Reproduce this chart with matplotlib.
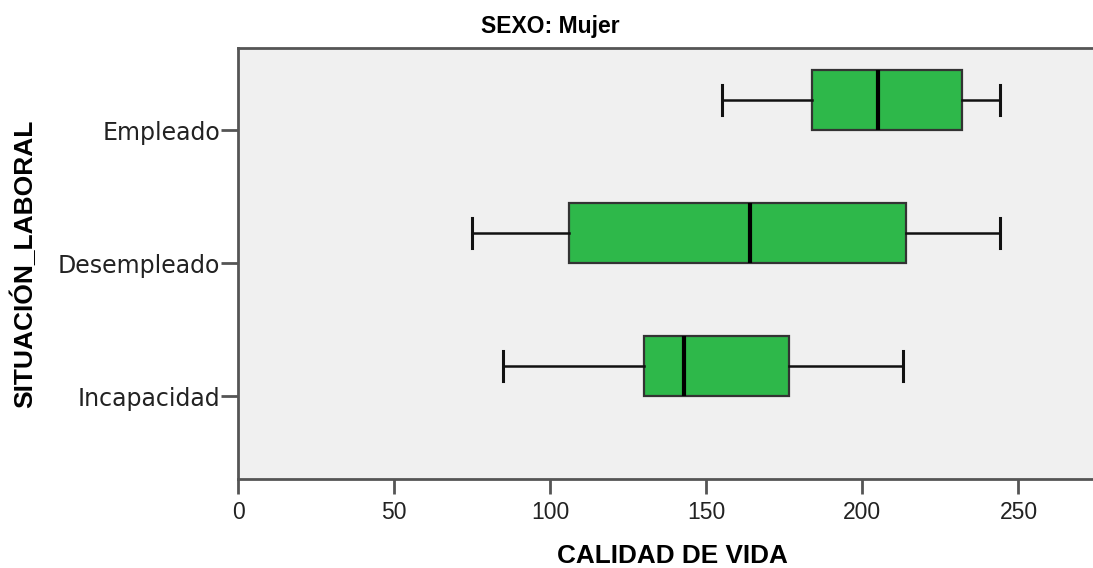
import numpy as np
import matplotlib as mpl
mpl.use('Agg')
import matplotlib.pyplot as plt

# Calidad de vida por situación laboral (SEXO: Mujer)
categories = ["Empleado", "Desempleado", "Incapacidad"]
whis_lo = [155.0, 75.0, 85.0]
q1      = [184.0, 106.0, 130.0]
median  = [205.0, 164.0, 143.0]
q3      = [232.0, 214.0, 176.5]
whis_hi = [244.0, 244.0, 213.0]

x_ticks = [0, 50, 100, 150, 200, 250]

plt.rcParams['font.family'] = ['Liberation Sans', 'DejaVu Sans']

fig = plt.figure(figsize=(10.93, 5.68), dpi=100)
ax = fig.add_axes([0.2178, 0.1567, 0.794, 0.7588])
ax.set_facecolor("#f0f0f0")

positions = np.arange(len(categories), 0, -1).astype(float)

stats = []
for i, name in enumerate(categories):
    stats.append(dict(
        label=name,
        whislo=whis_lo[i], q1=q1[i], med=median[i], q3=q3[i], whishi=whis_hi[i],
        fliers=[],
    ))

ax.bxp(
    stats,
    positions=positions,
    vert=False,
    widths=0.45,
    patch_artist=True,
    showfliers=False,
    boxprops=dict(facecolor="#2eb84a", edgecolor="#333333", linewidth=1.6),
    medianprops=dict(color="black", linewidth=3.0, solid_capstyle="butt"),
    whiskerprops=dict(color="#111111", linewidth=1.8),
    capprops=dict(color="#111111", linewidth=2.2),
    capwidths=0.23,
    manage_ticks=False,
)

ax.set_xlim(0, 278)
ax.set_ylim(0.15, 3.391)

ax.set_xticks(x_ticks)
ax.set_xticklabels([str(v) for v in x_ticks])
ax.set_yticks(positions - 0.226)
ax.set_yticklabels(categories, family=["DejaVu Sans"], fontsize=17)

for s in ["left", "bottom", "top"]:
    ax.spines[s].set_color("#555555")
    ax.spines[s].set_linewidth(2.0)
ax.spines["right"].set_visible(False)

ax.tick_params(axis="x", direction="out", length=11, width=2.0, color="#555555",
               labelsize=16.5, labelcolor="#222222", pad=5)
ax.tick_params(axis="y", direction="out", length=12, width=2.0, color="#555555",
               labelcolor="#222222", pad=1)

ax.set_xlabel("CALIDAD DE VIDA", fontsize=18.8, fontweight="bold")
ax.xaxis.set_label_coords(0.5, -0.1787)
ax.xaxis.label.set_va("center")

ax.set_ylabel("SITUACIÓN_LABORAL", fontsize=19, fontweight="bold")
ax.yaxis.set_label_coords(-0.2466, 0.5)
ax.yaxis.label.set_va("center")

fig.text(550 / 1093, 1 - 27 / 568, "SEXO: Mujer", fontsize=16.5, fontweight="bold",
         ha="center", va="center")

fig.savefig("out.png", dpi=100)
